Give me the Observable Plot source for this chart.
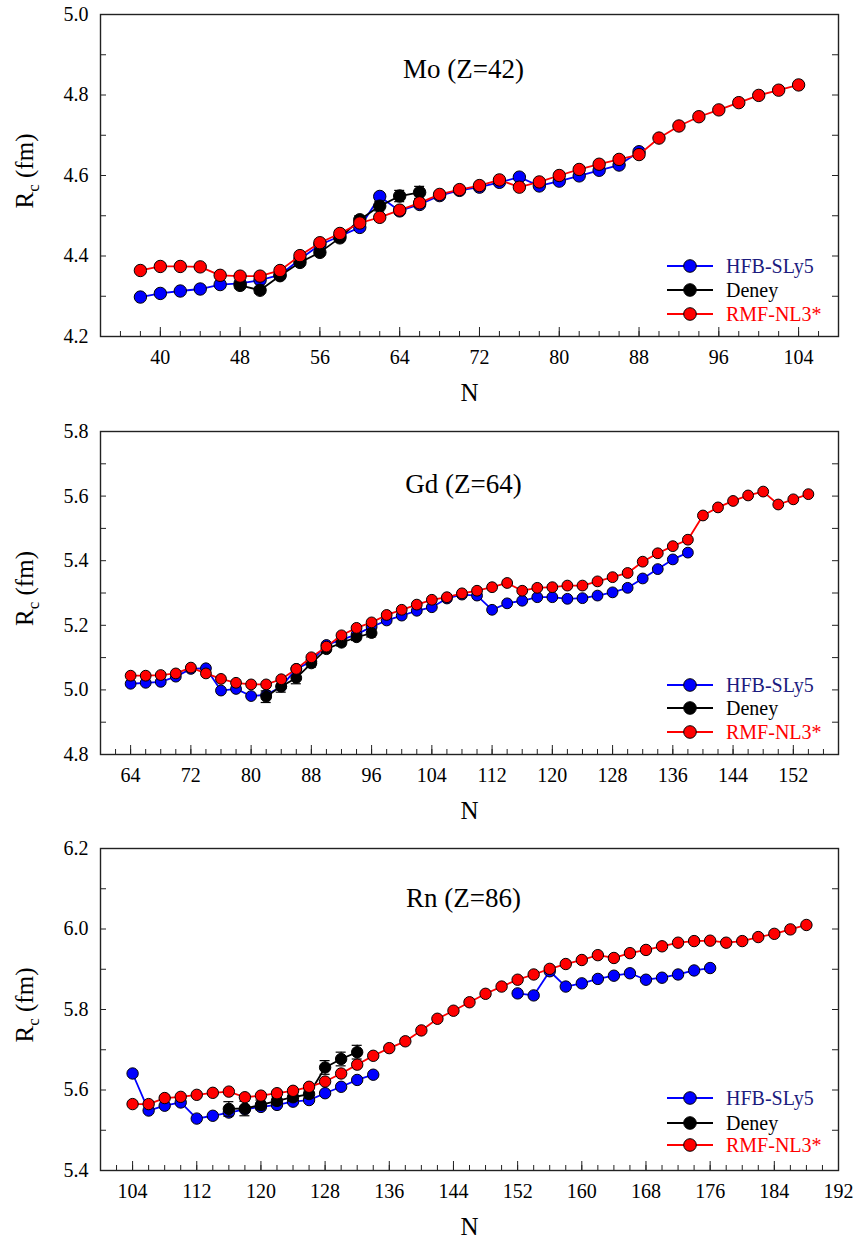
<!DOCTYPE html>
<html><head><meta charset="utf-8">
<script src="https://cdn.jsdelivr.net/npm/d3@7"></script>
<script src="https://cdn.jsdelivr.net/npm/@observablehq/plot@0.6"></script>
<style>
body{margin:0;background:#fff;}
#chart{width:860px;}
svg{display:block;}
</style></head><body><div id="chart"></div>
<script>
// ---------- Mo (Z=42) ----------
const moTitle = "Mo (Z=42)";
const moHfbN = [38,40,42,44,46,48,50,52,54,56,58,60,62,64,66,68,70,72,74,76,78,80,82,84,86,88];
const moHfbR = [4.298,4.307,4.313,4.318,4.329,4.332,4.340,4.353,4.392,4.428,4.449,4.471,4.548,4.512,4.528,4.550,4.563,4.571,4.583,4.596,4.574,4.586,4.599,4.613,4.626,4.659];
const moDenN = [48,50,52,54,56,58,60,62,64,66];
const moDenR = [4.327,4.315,4.351,4.384,4.409,4.445,4.490,4.524,4.549,4.558];
const moDenE = [0.008,0.008,0.008,0.008,0.008,0.008,0.010,0.012,0.014,0.015];
const moRmfN = [38,40,42,44,46,48,50,52,54,56,58,60,62,64,66,68,70,72,74,76,78,80,82,84,86,88,90,92,94,96,98,100,102,104];
const moRmfR = [4.364,4.374,4.374,4.373,4.352,4.350,4.350,4.364,4.401,4.433,4.456,4.482,4.496,4.514,4.532,4.553,4.565,4.575,4.589,4.571,4.584,4.600,4.615,4.628,4.640,4.652,4.693,4.723,4.746,4.763,4.781,4.799,4.812,4.825];
const moXTicks = [40,48,56,64,72,80,88,96,104];
const moYTicks = [4.2,4.4,4.6,4.8,5.0];

// ---------- Gd (Z=64) ----------
const gdTitle = "Gd (Z=64)";
const gdHfbN = [64,66,68,70,72,74,76,78,80,82,84,86,88,90,92,94,96,98,100,102,104,106,108,110,112,114,116,118,120,122,124,126,128,130,132,134,136,138];
const gdHfbR = [5.019,5.022,5.025,5.041,5.065,5.067,4.998,5.003,4.981,4.985,5.010,5.065,5.088,5.139,5.155,5.172,5.195,5.215,5.230,5.245,5.256,5.283,5.295,5.292,5.248,5.268,5.276,5.287,5.287,5.282,5.284,5.292,5.302,5.316,5.345,5.374,5.404,5.425];
const gdDenN = [82,84,86,88,90,92,94,96];
const gdDenR = [4.979,5.011,5.037,5.082,5.126,5.146,5.163,5.176];
const gdDenE = [0.018,0.018,0.018,0.012,0.010,0.010,0.010,0.012];
const gdRmfN = [64,66,68,70,72,74,76,78,80,82,84,86,88,90,92,94,96,98,100,102,104,106,108,110,112,114,116,118,120,122,124,126,128,130,132,134,136,138,140,142,144,146,148,150,152,154];
const gdRmfR = [5.044,5.044,5.046,5.051,5.069,5.051,5.034,5.022,5.017,5.017,5.033,5.065,5.101,5.134,5.169,5.192,5.209,5.232,5.248,5.264,5.279,5.287,5.299,5.307,5.318,5.331,5.307,5.316,5.318,5.323,5.323,5.336,5.349,5.362,5.397,5.423,5.445,5.465,5.540,5.565,5.585,5.602,5.614,5.574,5.590,5.606];
const gdXTicks = [64,72,80,88,96,104,112,120,128,136,144,152];
const gdYTicks = [4.8,5.0,5.2,5.4,5.6,5.8];

// ---------- Rn (Z=86) ----------
const rnTitle = "Rn (Z=86)";
const rnHfbN1 = [104,106,108,110,112,114,116,118,120,122,124,126,128,130,132,134];
const rnHfbR1 = [5.641,5.549,5.561,5.569,5.529,5.536,5.544,5.552,5.558,5.563,5.571,5.575,5.592,5.608,5.625,5.638];
const rnHfbN2 = [152,154,156,158,160,162,164,166,168,170,172,174,176];
const rnHfbR2 = [5.840,5.835,5.895,5.857,5.865,5.876,5.884,5.890,5.874,5.879,5.887,5.897,5.903];
const rnDenN = [116,118,120,122,124,126,128,130,132];
const rnDenR = [5.553,5.554,5.563,5.573,5.582,5.590,5.656,5.677,5.694];
const rnDenE = [0.018,0.018,0.012,0.010,0.010,0.010,0.017,0.017,0.017];
const rnRmfN = [104,106,108,110,112,114,116,118,120,122,124,126,128,130,132,134,136,138,140,142,144,146,148,150,152,154,156,158,160,162,164,166,168,170,172,174,176,178,180,182,184,186,188];
const rnRmfR = [5.565,5.565,5.580,5.583,5.588,5.593,5.596,5.582,5.586,5.592,5.598,5.608,5.621,5.641,5.663,5.685,5.704,5.721,5.748,5.777,5.797,5.818,5.839,5.857,5.874,5.887,5.901,5.913,5.923,5.935,5.928,5.940,5.948,5.957,5.966,5.970,5.971,5.966,5.970,5.980,5.988,5.999,6.010];
const rnXTicks = [104,112,120,128,136,144,152,160,168,176,184,192];
const rnYTicks = [5.4,5.6,5.8,6.0,6.2];

const seriesLabels = ["HFB-SLy5","Deney","RMF-NL3*"];
const yAxisLabel = ["R","c"," (fm)"];
const xAxisLabel = "N";

// ---------- styling ----------
const W = 860, ML = 100, MR = 22;
const FONT = "'Liberation Serif','Times New Roman',Times,serif";
const BLUE = "#0000ff", RED = "#ff0000", BLACK = "#000000";
const LEG_TEXT = ["#1b1b7e", "#000000", "#ff0000"];

const zip = (N, R, extra) => N.map((n, i) => Object.assign({N: n, R: R[i]}, extra ? extra(i) : {}));
const evens = (a, b) => { const o = []; for (let v = a; v <= b; v += 2) o.push(v); return o; };

function panel(cfg) {
  const plotW = W - ML - MR;
  const plotH = cfg.height - cfg.mt - cfg.mb;
  const ppu = plotW / (cfg.xDomain[1] - cfg.xDomain[0]);
  const cap = 5 / ppu;
  const hfb = cfg.hfb;
  const den = cfg.den;
  const rmf = cfg.rmf;
  const xMinor = evens(cfg.xDomain[0] + 2, cfg.xDomain[1] - 1);
  const yMinor = [];
  for (let k = 1; k < Math.round((cfg.yDomain[1] - cfg.yDomain[0]) * 10); k++) yMinor.push(+(cfg.yDomain[0] + k / 10).toFixed(2));
  const svg = Plot.plot({
    width: W, height: cfg.height,
    marginLeft: ML, marginRight: MR, marginTop: cfg.mt, marginBottom: cfg.mb,
    style: {fontFamily: FONT, fontSize: "20px", color: "#000", background: "#fff", overflow: "visible"},
    x: {domain: cfg.xDomain, axis: null, label: null},
    y: {domain: cfg.yDomain, axis: null, label: null},
    marks: [
      Plot.tickY(yMinor, {y: d => d, insetRight: plotW - 6, stroke: "#222", strokeWidth: 1}),
      Plot.tickY(yMinor, {y: d => d, insetLeft: plotW - 6, stroke: "#222", strokeWidth: 1}),
      Plot.tickX(xMinor, {x: d => d, insetTop: plotH - 5, stroke: "#222", strokeWidth: 1}),
      Plot.tickX(cfg.xTicks, {x: d => d, insetTop: plotH - 9, stroke: "#222", strokeWidth: 1}),
      Plot.axisY({ticks: cfg.yTicks, label: null, tickSize: 0, tickPadding: 12, tickFormat: d3.format(".1f"), fontSize: 20, fontFamily: FONT}),
      Plot.axisX({ticks: cfg.xTicks, label: null, tickSize: 0, tickPadding: 13, tickFormat: d => String(d), fontSize: 20, fontFamily: FONT}),
      Plot.frame({stroke: "#222", strokeWidth: 1.4}),
      Plot.text([cfg.title], {text: d => d, frameAnchor: "top", lineAnchor: "middle", dy: cfg.titleDy, dx: -6, fontSize: 27, fontFamily: FONT}),
      Plot.text([xAxisLabel], {text: d => d, frameAnchor: "bottom", lineAnchor: "middle", dy: 56, fontSize: 25, fontFamily: FONT}),
      // HFB
      Plot.line(hfb, {x: "N", y: "R", z: "seg", stroke: BLUE, strokeWidth: 1.8}),
      Plot.dot(hfb, {x: "N", y: "R", r: cfg.r, fill: BLUE, stroke: "#000", strokeWidth: 1}),
      // Deney
      Plot.ruleX(den, {x: "N", y1: d => d.R - d.E, y2: d => d.R + d.E, stroke: "#000", strokeWidth: 1.2}),
      Plot.ruleY(den, {y: d => d.R - d.E, x1: d => d.N - cap, x2: d => d.N + cap, stroke: "#000", strokeWidth: 1.2}),
      Plot.ruleY(den, {y: d => d.R + d.E, x1: d => d.N - cap, x2: d => d.N + cap, stroke: "#000", strokeWidth: 1.2}),
      Plot.line(den, {x: "N", y: "R", stroke: BLACK, strokeWidth: 1.8}),
      Plot.dot(den, {x: "N", y: "R", r: cfg.r, fill: BLACK, stroke: "#000", strokeWidth: 1}),
      // RMF
      Plot.line(rmf, {x: "N", y: "R", stroke: RED, strokeWidth: 1.8}),
      Plot.dot(rmf, {x: "N", y: "R", r: cfg.r, fill: RED, stroke: "#000", strokeWidth: 1})
    ]
  });
  const s = d3.select(svg);
  // y axis label with subscript
  const t = s.append("text")
    .attr("transform", `translate(24,${cfg.mt + plotH / 2 - 4}) rotate(-90)`)
    .attr("text-anchor", "middle")
    .attr("dy", "0.35em")
    .style("font-family", FONT).style("font-size", "25px").attr("fill", "#000");
  t.append("tspan").text(yAxisLabel[0]);
  t.append("tspan").attr("dy", 6).style("font-size", "17px").text(yAxisLabel[1]);
  t.append("tspan").attr("dy", -6).text(yAxisLabel[2]);
  // legend
  const cols = [BLUE, BLACK, RED];
  const lg = s.append("g").attr("text-anchor", "start");
  cfg.legendDy.forEach((dy, i) => {
    const y = cfg.mt + plotH + dy;
    lg.append("line").attr("x1", 667).attr("x2", 713).attr("y1", y).attr("y2", y)
      .attr("stroke", cols[i]).attr("stroke-width", 1.8);
    lg.append("circle").attr("cx", 690).attr("cy", y).attr("r", 6.3)
      .attr("fill", cols[i]).attr("stroke", "#000").attr("stroke-width", 1);
    lg.append("text").attr("x", 726).attr("y", y).attr("dy", "0.35em").attr("text-anchor", "start")
      .style("font-family", FONT).style("font-size", "20px").attr("fill", LEG_TEXT[i]).text(seriesLabels[i]);
  });
  return svg;
}

const root = document.getElementById("chart");
root.appendChild(panel({
  title: moTitle, height: 415, mt: 14, mb: 79, titleDy: 55, r: 6.2,
  xDomain: [34, 108], yDomain: [4.2, 5.0], xTicks: moXTicks, yTicks: moYTicks,
  hfb: zip(moHfbN, moHfbR, () => ({seg: 1})),
  den: zip(moDenN, moDenR, i => ({E: moDenE[i]})),
  rmf: zip(moRmfN, moRmfR),
  legendDy: [-70, -46, -22]
}));
root.appendChild(panel({
  title: gdTitle, height: 417, mt: 16, mb: 78, titleDy: 53, r: 5.4,
  xDomain: [60, 158], yDomain: [4.8, 5.8], xTicks: gdXTicks, yTicks: gdYTicks,
  hfb: zip(gdHfbN, gdHfbR, () => ({seg: 1})),
  den: zip(gdDenN, gdDenR, i => ({E: gdDenE[i]})),
  rmf: zip(gdRmfN, gdRmfR),
  legendDy: [-69, -46, -22]
}));
root.appendChild(panel({
  title: rnTitle, height: 411, mt: 16, mb: 73, titleDy: 50, r: 5.7,
  xDomain: [100, 192], yDomain: [5.4, 6.2], xTicks: rnXTicks, yTicks: rnYTicks,
  hfb: zip(rnHfbN1, rnHfbR1, () => ({seg: 1})).concat(zip(rnHfbN2, rnHfbR2, () => ({seg: 2}))),
  den: zip(rnDenN, rnDenR, i => ({E: rnDenE[i]})),
  rmf: zip(rnRmfN, rnRmfR),
  legendDy: [-72, -47, -25]
}));
</script>
</body></html>
